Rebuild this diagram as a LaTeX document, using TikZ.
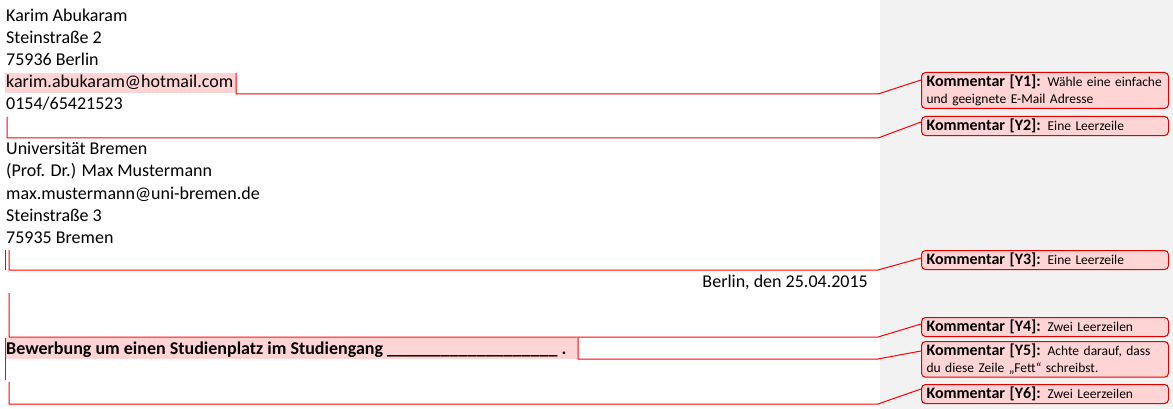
\documentclass[tikz,border=0pt]{standalone}
\usepackage{fontspec}
\setmainfont{Carlito}
\newcommand{\kb}[1]{{\fontsize{16}{17}\selectfont\textbf{Kommentar [#1]:}}}
\begin{document}
\begin{tikzpicture}[x=1pt,y=-1pt,
  body/.style={anchor=base west,inner sep=0pt,font=\fontsize{18}{20}\selectfont},
  cbox/.style={draw=red!90!black,fill=red!17,rounded corners=4pt,anchor=north west,minimum width=247pt,text width=237pt,inner xsep=5pt,inner ysep=2.5pt,align=left,font=\fontsize{13.5}{17}\selectfont,line width=1pt},
  mk/.style={red,line width=1pt},
  hl/.style={fill=red!17,draw=none}]
\useasboundingbox (0,0) rectangle (1173,409);
\fill[white] (0,0) rectangle (880,409);
\fill[gray!10] (880,0) rectangle (1173,409);
% highlights
\fill[hl] (5,73) rectangle (236,93);
\fill[hl] (5,338) rectangle (578,359);
% text
\node[body] (t1) at (6,22) {Karim Abukaram};
\node[body] (t2) at (6,44) {Steinstraße 2};
\node[body] (t3) at (6,66) {75936 Berlin};
\node[body] (t4) at (6,88) {karim.abukaram@hotmail.com};
\node[body] (t5) at (6,110) {0154/65421523};
\node[body] (t6) at (6,155) {Universität Bremen};
\node[body] (t7) at (6,177) {(Prof. Dr.) Max Mustermann};
\node[body] (t8) at (6,199) {max.mustermann@uni-bremen.de};
\node[body] (t9) at (6,221) {Steinstraße 3};
\node[body] (t10) at (6,243) {75935 Bremen};
\node[body,anchor=base east] (t11) at (868,287) {Berlin, den 25.04.2015};
\node[body,font=\fontsize{18}{20}\selectfont\bfseries] (t12) at (6,354) {Bewerbung um einen Studienplatz im Studiengang \_\_\_\_\_\_\_\_\_\_\_\_\_\_\_\_\_\_\_ .};
% comment boxes
\node[cbox] (y1) at (921,72) {\kb{Y1} Wähle eine einfache\\ und geeignete E-Mail Adresse};
\node[cbox] (y2) at (921,116) {\kb{Y2} Eine Leerzeile};
\node[cbox] (y3) at (921,250) {\kb{Y3} Eine Leerzeile};
\node[cbox] (y4) at (921,317) {\kb{Y4} Zwei Leerzeilen};
\node[cbox] (y5) at (921,341) {\kb{Y5} Achte darauf, dass\\ du diese Zeile „Fett“ schreibst.};
\node[cbox] (y6) at (921,384) {\kb{Y6} Zwei Leerzeilen};
% markers
\coordinate (a1) at (236,73);
\draw[mk] (a1) -- (236,94) -- (878,94) -- (y1.west|-0,80);
\coordinate (a2) at (7,117);
\draw[mk] (a2) -- (7,138) -- (878,138) -- (y2.west|-0,122);
\draw[mk] (5,250) -- (5,270);
\coordinate (a3) at (9,250);
\draw[mk] (a3) -- (9,270) -- (878,270) -- (y3.west|-0,258);
\coordinate (a4) at (9,293);
\draw[mk] (a4) -- (9,337) -- (878,337) -- (y4.west|-0,324);
\draw[mk] (5,338) -- (5,380);
\coordinate (a5) at (578,338);
\draw[mk] (a5) -- (578,359) -- (878,359) -- (y5.west|-0,351);
\coordinate (a6) at (9,382);
\draw[mk] (a6) -- (9,404) -- (878,404) -- (y6.west|-0,389);
\end{tikzpicture}
\end{document}
